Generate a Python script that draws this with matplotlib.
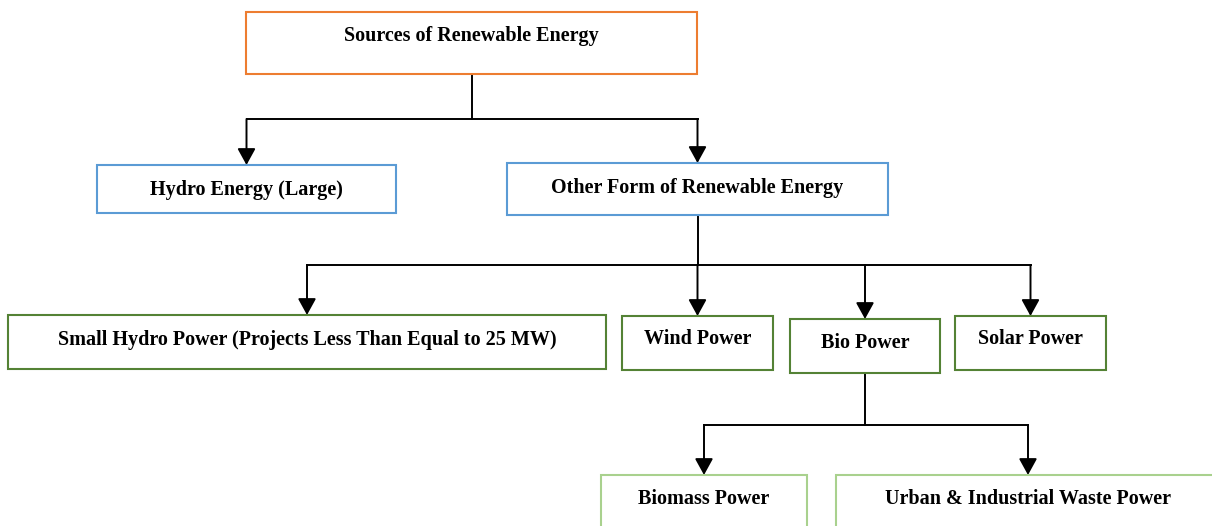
import matplotlib
matplotlib.use("Agg")
import matplotlib.pyplot as plt
from matplotlib.patches import Rectangle

# boxes of the tree, in pixel units of the reference picture
labels = ["Sources of Renewable Energy",
          "Hydro Energy (Large)",
          "Other Form of Renewable Energy",
          "Small Hydro Power (Projects Less Than Equal to 25 MW)",
          "Wind Power",
          "Bio Power",
          "Solar Power",
          "Biomass Power",
          "Urban & Industrial Waste Power"]
left = [246, 97, 507, 8, 622, 790, 955, 601, 836]
right = [697, 396, 888, 606, 773, 940, 1106, 807, 1220]
top = [12, 165, 163, 315, 316, 319, 316, 475, 475]
bottom = [74, 213, 215, 369, 370, 373, 370, 545, 545]
text_y = [36, 190, 188, 340, 339, 343, 339, 499, 499]
edge = ["#ED7D31", "#5B9BD5", "#5B9BD5", "#548235", "#548235",
        "#548235", "#548235", "#A9D18E", "#A9D18E"]

# parent -> children, with the y of the horizontal bus line
parents = [0, 2, 5]
children = [[1, 2], [3, 4, 5, 6], [7, 8]]
bus_y = [119, 265, 425]

fig = plt.figure(figsize=(12.12, 5.26), dpi=100)
ax = fig.add_axes([0, 0, 1, 1])
ax.set_xlim(0, 1212)
ax.set_ylim(526, 0)
ax.axis("off")

centers = [(l + r) / 2 for l, r in zip(left, right)]
centers[8] = 1028  # text of the clipped box sits here

for i, name in enumerate(labels):
    ax.add_patch(Rectangle((left[i], top[i]), right[i] - left[i], bottom[i] - top[i],
                           facecolor="white", edgecolor=edge[i], lw=1.5, zorder=2))
    ax.text(centers[i], text_y[i], name, ha="center", va="center",
            fontsize=14.5, fontweight="bold", family="Liberation Serif", zorder=3)

for p, kids, by in zip(parents, children, bus_y):
    px = centers[p]
    ax.plot([px, px], [bottom[p], by], color="black", lw=1.4, zorder=1)
    xs = [centers[k] for k in kids] + [px]
    ax.plot([min(xs), max(xs)], [by, by], color="black", lw=1.4, zorder=1)
    for k in kids:
        ax.annotate("", xy=(centers[k], top[k]), xytext=(centers[k], by),
                    arrowprops=dict(arrowstyle="-|>,head_length=0.4,head_width=0.22",
                                    mutation_scale=25, color="black", lw=1.4,
                                    shrinkA=0, shrinkB=0), zorder=1)

plt.savefig("out.png", dpi=100)
